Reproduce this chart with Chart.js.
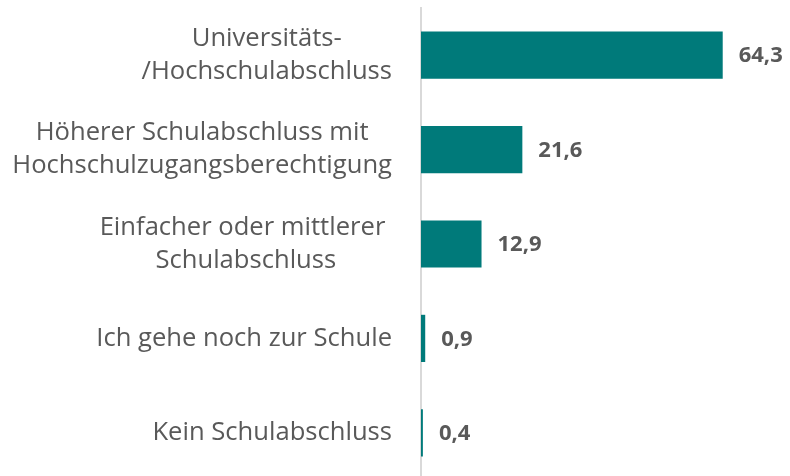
<!DOCTYPE html>
<html>
<head>
<meta charset="utf-8">
<script src="https://cdn.jsdelivr.net/npm/chart.js@4/dist/chart.umd.min.js"></script>
<style>
  html, body { margin: 0; padding: 0; background: #fff; overflow: hidden; }
  #wrap { width: 790px; height: 480px; }
</style>
</head>
<body>
<div id="wrap"><canvas id="chart" width="790" height="480"></canvas></div>
<script>
const categories = [
    ['Universitäts-', '/Hochschulabschluss'],
    ['Höherer Schulabschluss mit', 'Hochschulzugangsberechtigung'],
    ['Einfacher oder mittlerer ', 'Schulabschluss'],
    ['Ich gehe noch zur Schule'],
    ['Kein Schulabschluss']
];
const shares = [64.3, 21.6, 12.9, 0.9, 0.4];

const barColor = '#007A7A';
const textColor = '#595959';

// category labels: block right aligned, lines centred inside the block
const categoryLabels = {
    id: 'categoryLabels',
    afterDraw(chart) {
        const ctx = chart.ctx;
        const yScale = chart.scales.y;
        const right = chart.chartArea.left - 29;
        const lh = 33;
        ctx.save();
        ctx.font = '25.6px "Open Sans"';
        ctx.fillStyle = textColor;
        ctx.textAlign = 'left';
        ctx.textBaseline = 'middle';
        categories.forEach(function(lines, i) {
            const widest = Math.max.apply(null, lines.map(l => ctx.measureText(l).width));
            const cx = right - widest / 2;
            const cy = yScale.getPixelForTick(i);
            lines.forEach(function(line, j) {
                const w = ctx.measureText(line).width;
                ctx.fillText(line, cx - w / 2, cy + (j - (lines.length - 1) / 2) * lh);
            });
        });
        ctx.restore();
    }
};

// draws the value next to the end of each bar
const valueLabels = {
    id: 'valueLabels',
    afterDatasetsDraw(chart) {
        const ctx = chart.ctx;
        const meta = chart.getDatasetMeta(0);
        ctx.save();
        ctx.font = 'bold 22px "Open Sans"';
        ctx.fillStyle = textColor;
        ctx.textAlign = 'left';
        ctx.textBaseline = 'middle';
        meta.data.forEach(function(bar, i) {
            const txt = shares[i].toLocaleString('de-DE', { minimumFractionDigits: 1 });
            ctx.fillText(txt, bar.x + 16, bar.y + 1);
        });
        ctx.restore();
    }
};

const ctx = document.getElementById('chart').getContext('2d');
new Chart(ctx, {
    type: 'bar',
    data: {
        labels: categories.map(l => l.join(' ')),
        datasets: [{
            data: shares,
            backgroundColor: barColor,
            barPercentage: 0.5,
            categoryPercentage: 1.0
        }]
    },
    options: {
        indexAxis: 'y',
        responsive: false,
        animation: false,
        layout: { padding: { top: 8, right: 3, bottom: 0, left: 0 } },
        plugins: {
            legend: { display: false },
            tooltip: { enabled: false }
        },
        scales: {
            x: {
                min: 0,
                max: 78,
                display: false
            },
            y: {
                grid: { display: false, drawTicks: false },
                border: { display: true, color: '#D9D9D9', width: 2 },
                ticks: { display: false },
                afterFit(scale) {
                    scale.width = 421;
                    scale.paddingTop = 0;
                    scale.paddingBottom = 0;
                }
            }
        }
    },
    plugins: [valueLabels, categoryLabels]
});
</script>
</body>
</html>
